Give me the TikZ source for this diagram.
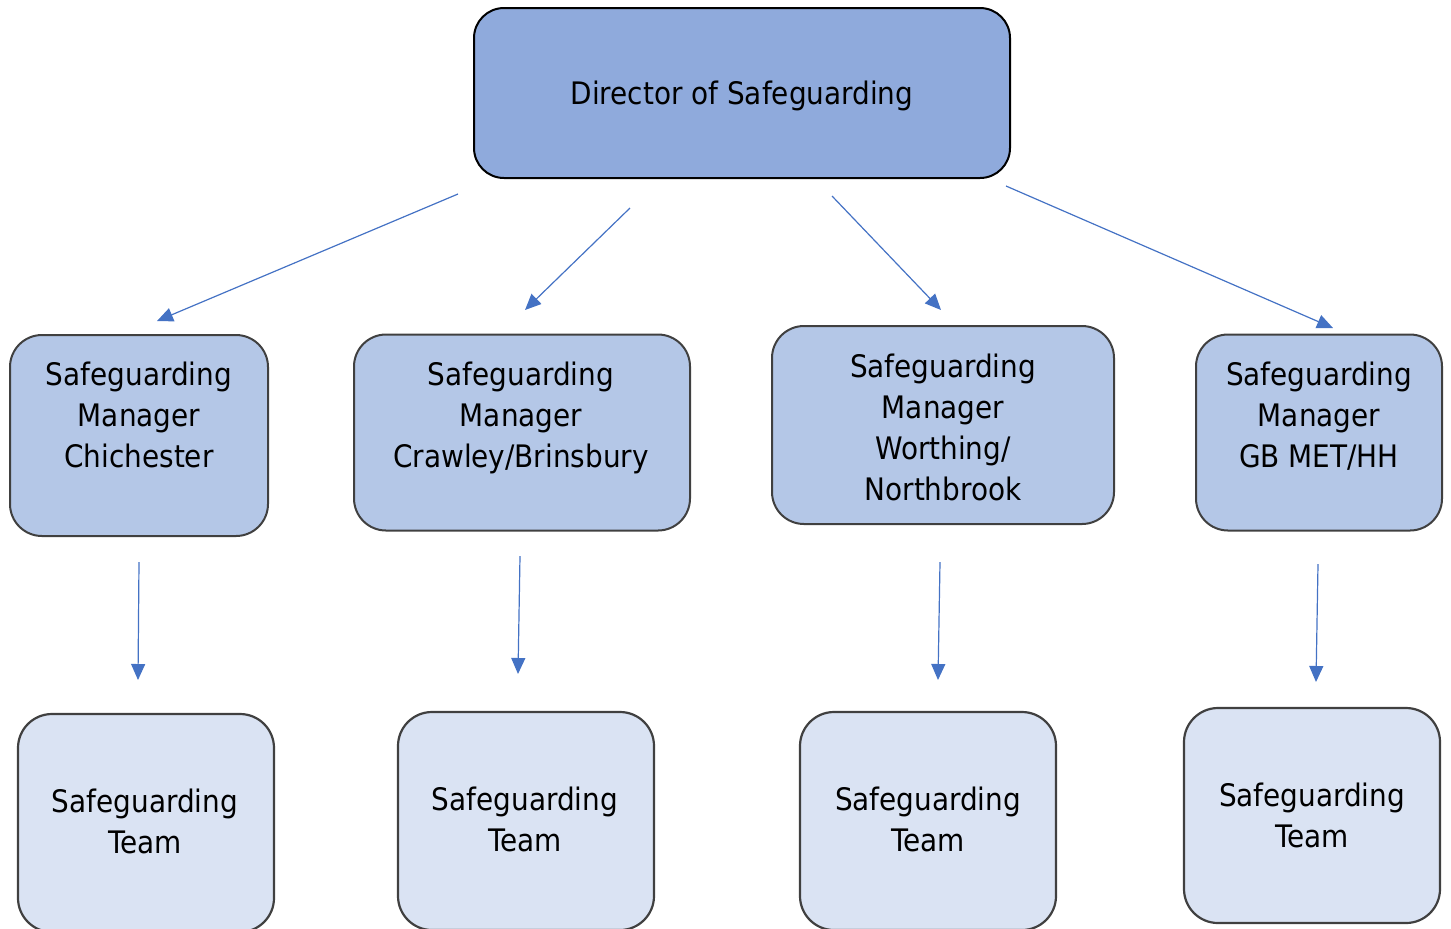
\documentclass[tikz,border=0pt]{standalone}
\usepackage{fontspec}
\setmainfont{DejaVu Sans Condensed}
\usetikzlibrary{arrows.meta,positioning}
\definecolor{dircol}{HTML}{8FAADC}
\definecolor{mgrcol}{HTML}{B4C7E7}
\definecolor{teamcol}{HTML}{DAE3F3}
\definecolor{edgecol}{HTML}{404040}
\definecolor{arrcol}{HTML}{4472C4}

\begin{document}
\begin{tikzpicture}[x=0.5pt,y=-0.5pt,
   dirbox/.style={draw=black,line width=1pt,rounded corners=15pt,fill=dircol,text depth=0pt,
                  minimum width=268pt,minimum height=85pt,font=\fontsize{15.5}{20.5}\selectfont},
   mgrbox/.style={draw=edgecol,line width=1pt,rounded corners=16pt,fill=mgrcol,
                  minimum height=98pt},
   teambox/.style={draw=edgecol,line width=1.1pt,rounded corners=17pt,fill=teamcol,
                  minimum width=128pt},
   txt/.style={align=center,inner sep=0pt,font=\fontsize{15.5}{20.5}\selectfont},
   link/.style={-{Triangle[length=8pt,width=7pt]},line width=0.6pt,arrcol}]
  \clip (0,0) rectangle (1451,928);
  \useasboundingbox (0,0) rectangle (1451,928);

  \node[dirbox] (dir) at (742,93) {Director of Safeguarding};

  % managers
  \node[mgrbox,minimum width=129pt,minimum height=100.5pt] (chi) at (139,435.5) {};
  \node[mgrbox,minimum width=168pt] (cra) at (522,432.5) {};
  \node[mgrbox,minimum width=171pt,minimum height=99pt] (wor) at (943,425) {};
  \node[mgrbox,minimum width=123pt] (gbm) at (1319,432.5) {};
  \node[txt] (chitxt) at (139,415) {Safeguarding\\Manager\\Chichester};
  \node[txt] (cratxt) at (521,418) {Safeguarding\\Manager\\Crawley/Brinsbury};
  \node[txt] (wortxt) at (943,427.5) {Safeguarding\\Manager\\Worthing/\\Northbrook};
  \node[txt] (gbmtxt) at (1319,416) {Safeguarding\\Manager\\GB MET/HH};

  % teams
  \node[teambox,minimum height=109pt] (teamA) at (146,823) {};
  \node[teambox,minimum height=109pt] (teamB) at (526,821) {};
  \node[teambox,minimum height=109pt] (teamC) at (928,821) {};
  \node[teambox,minimum height=107.5pt] (teamD) at (1312,815.5) {};
  \node[txt] (teamAtxt) at (145,821.5) {Safeguarding\\Team};
  \node[txt] (teamBtxt) at (525,819.5) {Safeguarding\\Team};
  \node[txt] (teamCtxt) at (928,819.5) {Safeguarding\\Team};
  \node[txt] (teamDtxt) at (1312,815.5) {Safeguarding\\Team};

  % arrow ends
  \coordinate (dA) at (458,194);  \coordinate (chiIn) at (157,321);
  \coordinate (dB) at (630,208);  \coordinate (craIn) at (525,310);
  \coordinate (dC) at (832,196);  \coordinate (worIn) at (941,310);
  \coordinate (dD) at (1006,186); \coordinate (gbmIn) at (1333,328);
  \coordinate (chiOut) at (139,562);  \coordinate (teamAIn) at (138,680);
  \coordinate (craOut) at (520,556);  \coordinate (teamBIn) at (518,674);
  \coordinate (worOut) at (940,562);  \coordinate (teamCIn) at (938,680);
  \coordinate (gbmOut) at (1318,564); \coordinate (teamDIn) at (1316,682);

  \draw[link] (dA) -- (chiIn);
  \draw[link] (dB) -- (craIn);
  \draw[link] (dC) -- (worIn);
  \draw[link] (dD) -- (gbmIn);
  \draw[link] (chiOut) -- (teamAIn);
  \draw[link] (craOut) -- (teamBIn);
  \draw[link] (worOut) -- (teamCIn);
  \draw[link] (gbmOut) -- (teamDIn);
\end{tikzpicture}
\end{document}
